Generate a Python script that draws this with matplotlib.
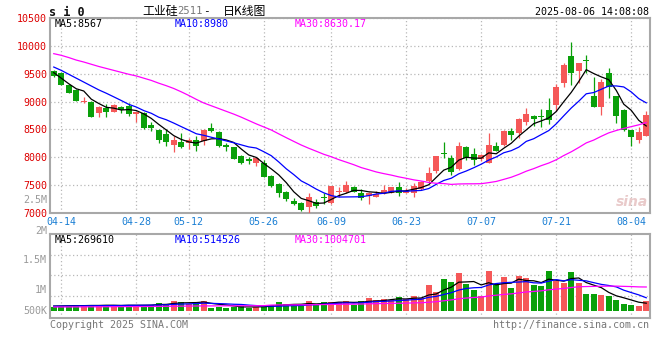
import matplotlib
matplotlib.use("Agg")
import matplotlib.pyplot as plt
import numpy as np
import pandas as pd

# ------------------------------------------------------------
# style
# ------------------------------------------------------------
plt.rcParams.update({
    "font.family": ["DejaVu Sans Mono"],
    "font.size": 7.2,
    "axes.linewidth": 1.5,
    "axes.edgecolor": "#a8a8a8",
})

RED = "#f55858"
GREEN = "#0aa00a"
GRID = "#b8b8b8"

# ------------------------------------------------------------
# data
# ------------------------------------------------------------
holidays = ["2025-05-01", "2025-05-02", "2025-05-05", "2025-06-02"]
days = pd.bdate_range("2025-04-11", "2025-08-06")
days = days[~days.isin(pd.to_datetime(holidays))]
day_labels = [d.strftime("%m-%d") for d in days]

tick_dates = ["04-14", "04-28", "05-12", "05-26", "06-09",
              "06-23", "07-07", "07-21", "08-04"]

open_ = [9549, 9507, 9297, 9207, 8986, 8998, 8789, 8878, 8819, 8908,
         8926, 8777, 8789, 8579, 8490, 8418, 8220, 8280, 8262, 8310,
         8298, 8520, 8460, 8226, 8178, 8023, 7963, 7903, 7903, 7664,
         7520, 7383, 7215, 7185, 7113, 7203, 7287, 7173, 7377, 7383,
         7472, 7365, 7305, 7293, 7365, 7365, 7472, 7365, 7365, 7425,
         7580, 7760, 8071, 7987, 7784, 8185, 8059, 7964, 7904, 8209,
         8221, 8472, 8442, 8640, 8741, 8735, 8849, 8939, 9340, 9818,
         9555, 9744, 9100, 8909, 9507, 9100, 8849, 8490, 8311, 8382]
high = [9566, 9537, 9309, 9219, 9088, 9010, 8920, 8950, 8950, 8926,
        8968, 8819, 8807, 8633, 8502, 8502, 8382, 8430, 8352, 8382,
        8508, 8621, 8472, 8250, 8190, 8041, 8011, 8011, 7951, 7682,
        7532, 7395, 7263, 7197, 7353, 7245, 7353, 7484, 7472, 7580,
        7484, 7425, 7371, 7401, 7502, 7472, 7556, 7442, 7532, 7580,
        7831, 8023, 8280, 8041, 8280, 8200, 8161, 8059, 8442, 8269,
        8490, 8532, 8699, 8879, 8759, 8867, 9058, 9316, 9687, 10064,
        9699, 9836, 9450, 9400, 9597, 9100, 8861, 8490, 8550, 8831]
low = [9435, 9290, 9148, 9004, 8968, 8717, 8717, 8729, 8807, 8801,
       8741, 8639, 8508, 8478, 8262, 8202, 8095, 8170, 8143, 8119,
       8220, 8460, 8178, 8119, 7963, 7879, 7879, 7843, 7640, 7472,
       7281, 7221, 7137, 7042, 6994, 7090, 7161, 7161, 7281, 7353,
       7371, 7233, 7161, 7281, 7341, 7353, 7305, 7353, 7293, 7413,
       7562, 7724, 7981, 7682, 7772, 7960, 7862, 7940, 7892, 8119,
       8203, 8311, 8341, 8580, 8562, 8550, 8598, 8837, 9268, 9298,
       9340, 9507, 8909, 8759, 9058, 8622, 8478, 8203, 8251, 8382]
close = [9459, 9297, 9160, 9016, 9016, 8729, 8908, 8819, 8938, 8849,
         8771, 8819, 8520, 8531, 8310, 8274, 8310, 8178, 8310, 8202,
         8490, 8472, 8202, 8190, 7975, 7903, 7939, 7981, 7652, 7484,
         7365, 7245, 7161, 7054, 7281, 7125, 7275, 7484, 7389, 7502,
         7383, 7263, 7365, 7341, 7413, 7472, 7365, 7401, 7484, 7562,
         7724, 8023, 8053, 7742, 8202, 7981, 7952, 8041, 8221, 8119,
         8478, 8400, 8682, 8777, 8682, 8723, 8670, 9256, 9657, 9519,
         9699, 9730, 8909, 9358, 9268, 8741, 8490, 8358, 8460, 8759]

# volume, in millions
volume = [0.240, 0.264, 0.264, 0.264, 0.289, 0.264, 0.264, 0.289, 0.264, 0.264,
          0.289, 0.264, 0.289, 0.280, 0.337, 0.305, 0.378, 0.354, 0.305, 0.354,
          0.378, 0.215, 0.240, 0.215, 0.240, 0.256, 0.215, 0.240, 0.240, 0.289,
          0.354, 0.305, 0.289, 0.256, 0.378, 0.305, 0.354, 0.354, 0.354, 0.378,
          0.280, 0.378, 0.451, 0.402, 0.427, 0.402, 0.476, 0.427, 0.500, 0.451,
          0.768, 0.598, 0.915, 0.841, 1.061, 0.800, 0.646, 0.500, 1.110, 0.800,
          0.963, 0.695, 0.988, 0.939, 0.768, 0.744, 1.110, 0.866, 0.820, 1.085,
          0.817, 0.549, 0.549, 0.524, 0.500, 0.402, 0.305, 0.280, 0.256, 0.378]

# moving-average values before the window is full
ma5_head = [9520, 9420, 9320, 9230]
ma10_head = [9620, 9560, 9490, 9420, 9350, 9280, 9210, 9150, 9085]
ma30_head = [9860, 9830, 9790, 9745, 9710, 9670, 9630, 9595, 9560, 9525,
             9490, 9460, 9420, 9380, 9330, 9285, 9235, 9175, 9110, 9040,
             8975, 8925, 8875, 8825, 8775, 8720, 8660, 8600, 8545]
vma5_head = [0.255, 0.258, 0.262, 0.265]
vma10_head = [0.250, 0.252, 0.255, 0.258, 0.260, 0.262, 0.263, 0.265, 0.266]
vma30_head = [0.232, 0.233, 0.233, 0.234, 0.235, 0.236, 0.237, 0.238, 0.239, 0.240,
              0.241, 0.242, 0.243, 0.244, 0.246, 0.248, 0.250, 0.252, 0.254, 0.256,
              0.258, 0.258, 0.259, 0.260, 0.260, 0.261, 0.262, 0.263, 0.264]

price_ticks = [7000, 7500, 8000, 8500, 9000, 9500, 10000, 10500]
vol_ticks = [0.5, 1.0, 1.5, 2.0]
vol_tick_labels = ["500K", "1M", "1.5M", "2M"]

header_price = ["MA5:8567", "MA10:8980", "MA30:8630.17"]
header_vol = ["MA5:269610", "MA10:514526", "MA30:1004701"]


def with_head(values, window, head):
    ma = pd.Series(values, dtype=float).rolling(window).mean().to_numpy()
    ma[:len(head)] = head
    return ma


o = np.array(open_, dtype=float)
h = np.array(high, dtype=float)
l = np.array(low, dtype=float)
c = np.array(close, dtype=float)
v = np.array(volume)
x = np.arange(len(c))
up = c >= o
colors = np.where(up, RED, GREEN)

ma5 = with_head(close, 5, ma5_head)
ma10 = with_head(close, 10, ma10_head)
ma30 = with_head(close, 30, ma30_head)
vma5 = with_head(volume, 5, vma5_head)
vma10 = with_head(volume, 10, vma10_head)
vma30 = with_head(volume, 30, vma30_head)

tick_pos = [day_labels.index(d) for d in tick_dates]

# ------------------------------------------------------------
# figure
# ------------------------------------------------------------
W, H = 660, 360
fig = plt.figure(figsize=(6.6, 3.6), dpi=100)


def fx(px):
    return px / W


def fy(py):
    return 1 - py / H


ax = fig.add_axes([fx(50), fy(213), fx(600), (213 - 18) / H])
axv = fig.add_axes([fx(50), fy(318), fx(600), (318 - 234) / H], sharex=ax)

# candles
ax.vlines(x, l, h, colors=colors, linewidth=0.9, zorder=3)
body_lo = np.minimum(o, c)
body_h = np.maximum(np.abs(c - o), 16)
ax.bar(x, body_h, bottom=body_lo, width=0.76, color=colors,
       linewidth=0, zorder=4)

ax.plot(x, ma5, color="black", linewidth=0.9, zorder=5)
ax.plot(x, ma10, color="#0000ff", linewidth=0.9, zorder=5)
ax.plot(x, ma30, color="#ff00ff", linewidth=0.9, zorder=5)

ax.set_xlim(-0.5, len(c) - 0.5)
ax.set_ylim(7000, 10500)
ax.set_yticks(price_ticks)
ax.set_xticks(tick_pos)
ax.set_xticklabels(tick_dates, color="#1a7fd4")
ax.tick_params(axis="y", length=0, pad=2, labelcolor="#dd0000")
ax.tick_params(axis="x", length=0, pad=3)
ax.grid(True, color=GRID, linestyle=(0, (1, 2)), linewidth=0.9)
ax.set_axisbelow(True)

# volume
VOL_BASE = 0.134
axv.bar(x, v - VOL_BASE, bottom=VOL_BASE, width=0.8, color=colors,
        linewidth=0, zorder=3)
axv.plot(x, vma5, color="black", linewidth=0.9, zorder=4)
axv.plot(x, vma10, color="#0000ff", linewidth=0.9, zorder=4)
axv.plot(x, vma30, color="#ff00ff", linewidth=0.9, zorder=4)
axv.set_ylim(-0.037, 2.012)
axv.set_yticks(vol_ticks[:3])
axv.set_yticklabels([])
axv.tick_params(axis="both", length=0)
plt.setp(axv.get_xticklabels(), visible=False)
axv.grid(True, color=GRID, linestyle=(0, (1, 2)), linewidth=0.9)
axv.set_axisbelow(True)

for a in (ax, axv):
    for s in a.spines.values():
        s.set_color("#a8a8a8")
        s.set_linewidth(1.5)

# volume axis labels (drawn a little lower than the grid, as on the page)
for lab, py in zip(vol_tick_labels, [311, 290, 260, 231]):
    fig.text(fx(47), fy(py), lab, color="#9a9a9a", ha="right", va="center")
fig.text(fx(47), fy(200), "2.5M", color="#9a9a9a", ha="right", va="center")

# header
fig.text(fx(49), fy(12), "s i 0", fontsize=8.5, fontweight="bold",
         ha="left", va="center", color="#111111")
fig.text(fx(142), fy(11), "工业硅", fontsize=8.6, ha="left", va="center",
         family=["Noto Sans CJK SC", "DejaVu Sans"])
fig.text(fx(177), fy(11), "2511", fontsize=7.6, ha="left", va="center",
         color="#777777")
fig.text(fx(203), fy(11), "-", fontsize=8, ha="left", va="center")
fig.text(fx(223), fy(11), "日K线图", fontsize=8.6, ha="left", va="center",
         family=["Noto Sans CJK SC", "DejaVu Sans"])
fig.text(fx(649), fy(12), "2025-08-06 14:08:08", ha="right", va="center")

ma_colors = ["black", "#0000ff", "#ff00ff"]
for txt, col, px in zip(header_price, ma_colors, [55, 175, 295]):
    fig.text(fx(px), fy(24), txt, color=col, ha="left", va="center")
for txt, col, px in zip(header_vol, ma_colors, [55, 175, 295]):
    fig.text(fx(px), fy(240), txt, color=col, ha="left", va="center")

fig.text(fx(50), fy(325), "Copyright 2025 SINA.COM", color="#777777",
         ha="left", va="center")
fig.text(fx(649), fy(325), "http://finance.sina.com.cn", color="#777777",
         ha="right", va="center")

# faint sina watermark
fig.text(fx(632), fy(202), "sina", fontsize=10, fontweight="bold",
         style="italic", color="#e9caca", ha="center", va="center",
         family=["DejaVu Sans"])

fig.savefig("out.png", dpi=100)
